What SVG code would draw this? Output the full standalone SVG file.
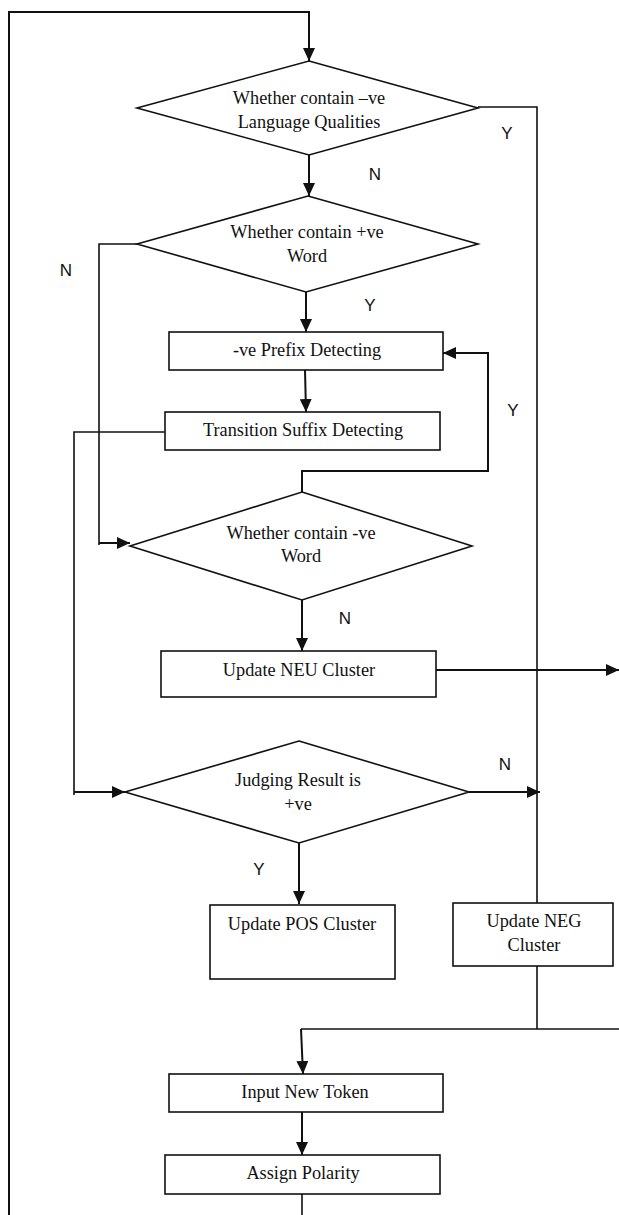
<svg xmlns="http://www.w3.org/2000/svg" width="619" height="1215" viewBox="0 0 619 1215">
<defs>
<marker id="ah" markerUnits="userSpaceOnUse" markerWidth="13" markerHeight="12" refX="13" refY="6" orient="auto">
<path d="M0,0 L13,6 L0,12 z" fill="#111"/>
</marker>
<style>
.n{fill:#fff;stroke:#111;stroke-width:1.6}
.t{font-family:"Liberation Serif","Times New Roman",serif;font-size:18.3px;fill:#111;text-anchor:middle}
.l{font-family:"Liberation Sans",Arial,sans-serif;font-size:17px;fill:#111;text-anchor:middle}
.c{fill:none;stroke:#111;stroke-width:1.6}
.a{fill:none;stroke:#111;stroke-width:2;marker-end:url(#ah)}
</style>
</defs>
<rect width="619" height="1215" fill="#fff"/>
<g id="connectors">
<path class="c" d="M302,1194 V1215"/>
<path class="a" d="M9,1215 V12 H309 V61"/>
<path class="a" d="M309,155 V196"/>
<path class="c" d="M478,107 H537 V903"/>
<path class="a" d="M306,292 V332"/>
<path class="c" d="M137,244 H99 V545"/>
<path class="a" d="M99,543 H130"/>
<path class="a" d="M305,370 L306,412"/>
<path class="c" d="M165,432 H74 V795"/>
<path class="a" d="M74,792 H125"/>
<path class="a" d="M302,492 V471 H488 V353 H443"/>
<path class="a" d="M302,600 V651"/>
<path class="a" d="M436,670 H619"/>
<path class="a" d="M469,792 H540"/>
<path class="a" d="M299,843 V904"/>
<path class="c" d="M537,966 V1029"/>
<path class="c" d="M301,1029 H619"/>
<path class="a" d="M301,1029 L303,1074"/>
<path class="a" d="M302,1112 V1155"/>
</g>
<g id="d1">
<polygon class="n" points="309,61 478,108 309,155 137,108"/>
<text class="t" x="309" y="104">Whether contain –ve</text>
<text class="t" x="309" y="128">Language Qualities</text>
</g>
<g id="d2">
<polygon class="n" points="308,196 478,244 306,292 137,244"/>
<text class="t" x="307" y="238">Whether contain +ve</text>
<text class="t" x="307" y="262">Word</text>
</g>
<g id="prefix">
<rect class="n" x="169" y="332" width="274" height="38"/>
<text class="t" x="307" y="356">-ve Prefix Detecting</text>
</g>
<g id="transition">
<rect class="n" x="165" y="412" width="275" height="38"/>
<text class="t" x="303" y="436">Transition Suffix Detecting</text>
</g>
<g id="d4">
<polygon class="n" points="302,492 472,546 302,600 130,546"/>
<text class="t" x="301" y="539">Whether contain -ve</text>
<text class="t" x="301" y="562">Word</text>
</g>
<g id="neu">
<rect class="n" x="161" y="651" width="275" height="46"/>
<text class="t" x="299" y="676">Update NEU Cluster</text>
</g>
<g id="judge">
<polygon class="n" points="299,741 469,792 299,843 125,792"/>
<text class="t" x="298" y="786">Judging Result is</text>
<text class="t" x="298" y="810">+ve</text>
</g>
<g id="pos">
<rect class="n" x="210" y="905" width="185" height="74"/>
<text class="t" x="302" y="930">Update POS Cluster</text>
</g>
<g id="neg">
<rect class="n" x="453" y="903" width="160" height="63"/>
<text class="t" x="534" y="927">Update NEG</text>
<text class="t" x="534" y="951">Cluster</text>
</g>
<g id="input">
<rect class="n" x="169" y="1074" width="274" height="38"/>
<text class="t" x="305" y="1098">Input New Token</text>
</g>
<g id="assign">
<rect class="n" x="165" y="1155" width="275" height="39"/>
<text class="t" x="303" y="1179">Assign Polarity</text>
</g>
<g id="labels">
<text class="l" x="507" y="139">Y</text>
<text class="l" x="375" y="180">N</text>
<text class="l" x="66" y="276">N</text>
<text class="l" x="370" y="311">Y</text>
<text class="l" x="513" y="416">Y</text>
<text class="l" x="345" y="624">N</text>
<text class="l" x="505" y="770">N</text>
<text class="l" x="259" y="875">Y</text>
</g>
</svg>
